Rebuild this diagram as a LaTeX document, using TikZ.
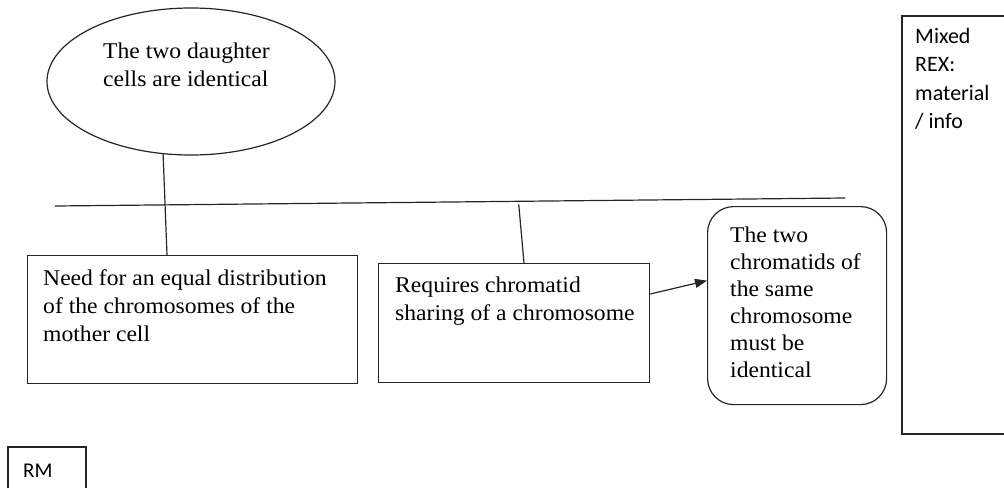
\documentclass[tikz,border=0pt]{standalone}
\usepackage{fontspec}
\setmainfont{Liberation Serif}[FakeStretch=1.05]
\newfontfamily\calib{Carlito}
\usetikzlibrary{shapes.geometric,arrows.meta,calc}
% multi-line text whose baseline is that of its first line
\newcommand{\txtlines}[1]{\begin{tabular}[t]{@{}l@{}}#1\end{tabular}}
\tikzset{
  outline/.style={draw=black!85, line width=1.2pt},
  boxnode/.style={outline, rectangle, inner sep=0pt, anchor=north west},
  label/.style={inner sep=0pt, anchor=base west},
  serif/.style={font=\fontsize{22.5}{28}\selectfont},
  sans/.style={font=\calib\fontsize{22}{28.5}\selectfont},
  link/.style={outline},
  arrowlink/.style={outline, -{Triangle[length=12pt,width=9pt]}}
}
\begin{document}
\begin{tikzpicture}[x=1pt, y=-1pt]
  \useasboundingbox (0,0) rectangle (1004,488);

  % shapes
  \node[outline, ellipse, minimum width=288pt, minimum height=147pt, inner sep=0pt] (ell) at (191,81.5) {};
  \node[boxnode, minimum width=330pt, minimum height=128pt] (box1) at (27,255) {};
  \node[boxnode, minimum width=271pt, minimum height=119pt] (box2) at (378,263) {};
  \node[boxnode, rounded corners=26pt, minimum width=179pt, minimum height=198pt] (rbox) at (707,206) {};

  % open frames running off the edge
  \draw[outline] (1004,16) -| (902,434) -- (1004,434);
  \draw[outline] (8,488) |- (86,447) -- (86,488);

  % texts
  \node[label, serif] (t1) at (103,58) {\txtlines{The two daughter\\cells are identical}};
  \node[label, serif] (t2) at (43,285) {\txtlines{Need for an equal distribution\\of the chromosomes of the\\mother cell}};
  \node[label, serif] (t3) at (395,292) {\txtlines{Requires chromatid\\sharing of a chromosome}};
  \node[label, serif, font=\fontsize{22.5}{27}\selectfont] (t4) at (730,242) {\txtlines{The two\\chromatids of\\the same\\chromosome\\must be\\identical}};
  \node[label, sans] (t5) at (915,43) {\txtlines{Mixed\\REX:\\material\\/ info}};
  \node[label, sans, font=\calib\fontsize{21}{24}\selectfont] (t6) at (23,477) {RM};

  % horizontal bar
  \coordinate (barL) at (55,206);
  \coordinate (barR) at (845,198);
  \draw[link] (barL) -- (barR);

  % connectors
  \draw[link] (ell.-111) -- ($(box1.north west)+(140,0)$);
  \draw[link] ($(barL)!0.587!(barR)+(0,3)$) -- ($(box2.north west)+(146,0)$);
  \draw[arrowlink] ($(box2.north east)+(0,31)$) -- ($(rbox.west)+(0,-25)$);
\end{tikzpicture}
\end{document}
